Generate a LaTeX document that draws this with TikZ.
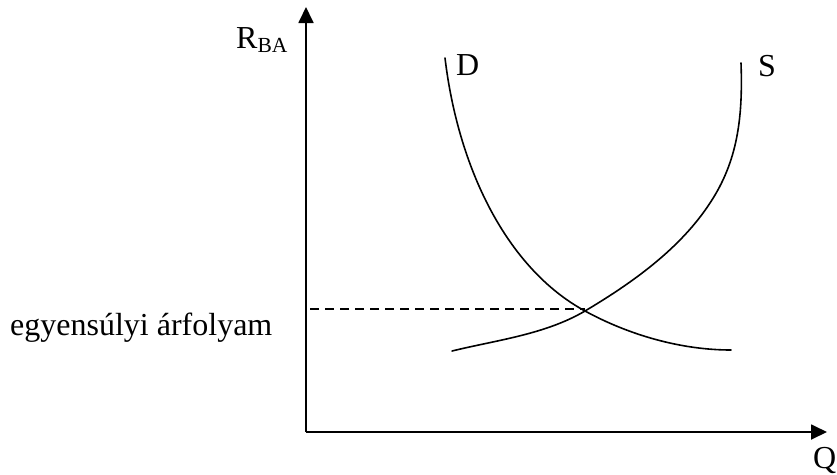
\documentclass[tikz,border=0pt]{standalone}
\usepackage{fontspec}
\setmainfont{Liberation Serif}
\usetikzlibrary{arrows.meta}
\tikzset{
  axis/.style={line width=1.8pt, -{Triangle[length=16pt,width=15pt]}},
  curve/.style={line width=1.6pt, line cap=round},
  guide/.style={line width=1.5pt, dash pattern=on 9pt off 6pt},
  lbl/.style={inner sep=0pt, anchor=base west, font=\fontsize{32}{38}\selectfont},
}
\begin{document}
\begin{tikzpicture}[x=1pt,y=-1pt]
\useasboundingbox (0,0) rectangle (837,474);
% axes
\coordinate (o) at (306,432);
\coordinate (ytip) at (306,7);
\coordinate (xtip) at (827,432);
\draw[axis] (o) -- (ytip);
\draw[axis] (o) -- (xtip);
% equilibrium point
\coordinate (eq) at (585,311);
% demand curve D
\draw[curve] (445,58) .. controls (458,167) and (506,268) .. (eq)
             .. controls (629,335) and (681,350) .. (731,350);
% supply curve S
\draw[curve] (741,63) .. controls (743,118) and (737.5,161.5) .. (710,203)
             .. controls (680,249) and (632,283) .. (eq)
             .. controls (545,334.5) and (497,340) .. (452,351);
% equilibrium guide
\coordinate (eqg) at (585,309);
\coordinate (eqaxis) at (310,309);
\draw[guide] (eqaxis) -- (eqg);
% labels
\node[lbl] (rba) at (236,48) {R{\fontsize{21.5}{24}\selectfont\raisebox{-4pt}{BA}}};
\node[lbl] (q) at (813,468) {Q};
\node[lbl] (d) at (456,75) {D};
\node[lbl] (s) at (758,76) {S};
\node[lbl] (eqlbl) at (10,335) {egyensúlyi árfolyam};
\end{tikzpicture}
\end{document}
